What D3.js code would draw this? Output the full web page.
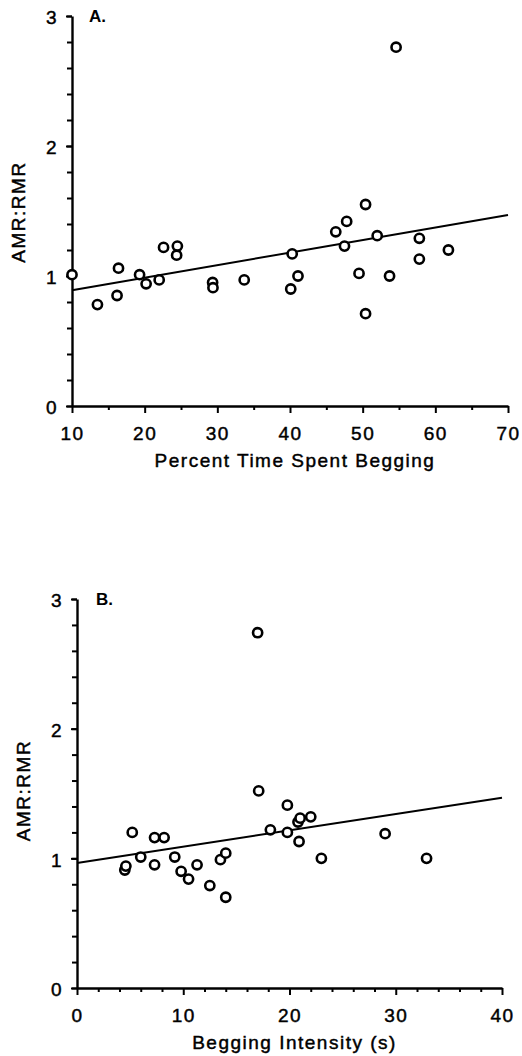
<!DOCTYPE html>
<html>
<head>
<meta charset="utf-8">
<script src="https://cdn.jsdelivr.net/npm/d3@7"></script>
<style>
  html, body { margin: 0; padding: 0; background: #fff; }
  svg { display: block; }
  text { font-family: "Liberation Sans", Arial, Helvetica, sans-serif; fill: #000; }
</style>
</head>
<body>
<svg id="chart" width="522" height="1056"></svg>
<script>
// Panel A: Percent Time Spent Begging vs AMR:RMR
const percentBegging = [10, 13.5, 16.2, 16.4, 19.3, 20.2, 22.0, 22.6, 24.5, 24.4, 29.35, 29.4, 33.7, 40.1, 40.3, 41.1, 46.3, 47.8, 47.5, 50.4, 49.5, 52.0, 53.7, 50.4, 57.8, 57.8, 61.8, 54.6];
const amrA =           [1.01, 0.78, 0.85, 1.06, 1.01, 0.94, 0.97, 1.22, 1.23, 1.16, 0.95, 0.91, 0.97, 0.90, 1.17, 1.00, 1.34, 1.42, 1.23, 1.55, 1.02, 1.31, 1.00, 0.71, 1.29, 1.13, 1.20, 2.76];
const fitA = [[10, 0.89], [70, 1.47]];
const xTicksA = [10, 20, 30, 40, 50, 60, 70];

// Panel B: Begging Intensity (s) vs AMR:RMR
const beggingIntensity = [4.5, 4.6, 5.2, 6.0, 7.3, 7.3, 8.2, 9.2, 9.8, 10.5, 11.3, 12.5, 13.5, 14.0, 14.0, 17.1, 18.2, 19.8, 19.8, 20.8, 21.0, 22.0, 20.9, 23.0, 29.0, 32.9, 17.0];
const amrB =             [0.91, 0.94, 1.20, 1.01, 0.95, 1.16, 1.16, 1.01, 0.90, 0.84, 0.95, 0.79, 0.99, 1.04, 0.70, 1.52, 1.22, 1.41, 1.20, 1.28, 1.31, 1.32, 1.13, 1.00, 1.19, 1.00, 2.74];
const fitB = [[0, 0.964], [40, 1.467]];
const xTicksB = [0, 10, 20, 30, 40];

const yTicks = [0, 1, 2, 3];

const svg = d3.select("#chart");

function styleText(sel, size) {
  sel.attr("font-size", size)
    .style("font-family", "Liberation Sans, Arial, sans-serif")
    .style("letter-spacing", "1.5px")
    .attr("fill", "#000").attr("stroke", "#000").attr("stroke-width", 0.45);
}

function panel(cfg) {
  const g = svg.append("g");
  const x = d3.scaleLinear().domain(cfg.xDomain).range([cfg.left, cfg.right]);
  const y = d3.scaleLinear().domain([0, 3]).range([cfg.bottom, cfg.top]);

  // minor y ticks
  g.append("g").attr("transform", `translate(${cfg.left},0)`)
    .call(d3.axisLeft(y).tickValues(d3.range(0, 3.001, 0.2)).tickSize(5).tickFormat(""))
    .call(a => a.select(".domain").remove())
    .call(a => a.selectAll("line").attr("stroke-width", 2));
  // major y
  const ya = g.append("g").attr("transform", `translate(${cfg.left},0)`)
    .call(d3.axisLeft(y).tickValues(yTicks).tickSize(6).tickSizeOuter(0).tickPadding(8).tickFormat(d3.format("d")));
  ya.select(".domain").attr("stroke-width", 2.4);
  ya.selectAll("line").attr("stroke-width", 2);
  styleText(ya.selectAll("text"), 19);
  ya.selectAll("text").attr("dy", "0.42em");

  // minor x
  g.append("g").attr("transform", `translate(0,${cfg.bottom})`)
    .call(d3.axisBottom(x).tickValues(cfg.minorX).tickSize(4).tickFormat(""))
    .call(a => a.select(".domain").remove())
    .call(a => a.selectAll("line").attr("stroke-width", 2));
  const xa = g.append("g").attr("transform", `translate(0,${cfg.bottom})`)
    .call(d3.axisBottom(x).tickValues(cfg.xTicks).tickSize(7).tickSizeOuter(0).tickPadding(14).tickFormat(d3.format("d")));
  xa.select(".domain").attr("stroke-width", 2.4);
  xa.selectAll("line").attr("stroke-width", 2);
  styleText(xa.selectAll("text"), 19);

  // fit line
  g.append("path")
    .datum(cfg.fit)
    .attr("d", d3.line().x(d => x(d[0])).y(d => y(d[1])))
    .attr("fill", "none").attr("stroke", "#000").attr("stroke-width", 2);

  // points
  g.selectAll("circle.pt").data(cfg.xs.map((v, i) => [v, cfg.ys[i]]))
    .join("circle").attr("class", "pt")
    .attr("cx", d => x(d[0])).attr("cy", d => y(d[1])).attr("r", 4.6)
    .attr("fill", "#fff").attr("stroke", "#000").attr("stroke-width", 2.6);

  // labels
  g.append("text").attr("x", cfg.panelLabelX).attr("y", cfg.top + 6)
    .attr("font-size", 17).attr("font-weight", "bold").text(cfg.panelLabel);
  const xt = g.append("text").attr("x", (cfg.left + cfg.right) / 2 + 5).attr("y", cfg.bottom + 61)
    .attr("text-anchor", "middle").text(cfg.xTitle);
  styleText(xt, 19);
  const yt = g.append("text")
    .attr("transform", `translate(${cfg.yTitleX},${(cfg.top + cfg.bottom) / 2 + cfg.yTitleShift}) rotate(-90)`)
    .attr("text-anchor", "middle").text("AMR:RMR");
  styleText(yt, 19);
}

panel({
  xDomain: [10, 70], left: 72, right: 508, top: 16, bottom: 406,
  xTicks: xTicksA, minorX: d3.range(15, 70, 10),
  xs: percentBegging, ys: amrA, fit: fitA,
  panelLabel: "A.", panelLabelX: 89, xTitle: "Percent Time Spent Begging", yTitleX: 25, yTitleShift: 1
});
panel({
  xDomain: [0, 40], left: 77, right: 502, top: 599, bottom: 988,
  xTicks: xTicksB, minorX: d3.range(2, 40, 2).filter(v => v % 10 !== 0),
  xs: beggingIntensity, ys: amrB, fit: fitB,
  panelLabel: "B.", panelLabelX: 96, xTitle: "Begging Intensity (s)", yTitleX: 30, yTitleShift: -3
});
</script>
</body>
</html>
